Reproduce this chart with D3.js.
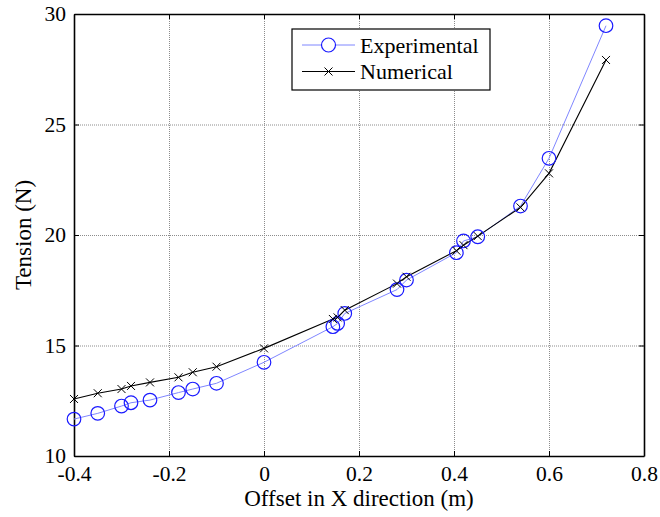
<!DOCTYPE html>
<html lang="en">
<head>
<meta charset="utf-8">
<script src="https://d3js.org/d3.v7.min.js"></script>
<style>
  body { margin: 0; background: #fff; }
  svg { font-family: "Liberation Serif", "Times New Roman", serif; }
  .grid line { stroke: #8c8c8c; stroke-dasharray: 1,1; }
  .grid path { display: none; }
  .axis path { stroke: #000; stroke-width: 1.6; }
  .axis line { stroke: #000; }
  .axis text { font-family: "Liberation Serif", "Times New Roman", serif; font-size: 21.5px; fill: #000; }
</style>
</head>
<body>
<svg width="660" height="517"></svg>
<script>
// offset in x direction (m)
var offsets = [-0.4, -0.35, -0.3, -0.28, -0.24, -0.18, -0.15, -0.1, 0, 0.145, 0.155, 0.17,
               0.28, 0.3, 0.405, 0.42, 0.45, 0.54, 0.6, 0.72];
// tension (N)
var experimental = [11.67, 11.93, 12.26, 12.41, 12.53, 12.87, 13.03, 13.29, 14.24, 15.85, 16.0, 16.45,
                    17.53, 17.96, 19.2, 19.73, 19.92, 21.31, 23.47, 29.47];
var numerical = [12.58, 12.84, 13.03, 13.17, 13.33, 13.56, 13.79, 14.04, 14.87, 16.2, 16.27, 16.6,
                 17.8, 18.11, 19.29, 19.54, 19.95, 21.25, 22.79, 27.92];
var xTicks = [-0.4, -0.2, 0, 0.2, 0.4, 0.6, 0.8];
var yTicks = [10, 15, 20, 25, 30];
var seriesNames = ["Experimental", "Numerical"];

var pl = 74, pr = 644, pt = 14, pb = 456;

var svg = d3.select("svg");

var x = d3.scaleLinear().domain([-0.4, 0.8]).range([pl, pr]);
var y = d3.scaleLinear().domain([10, 30]).range([pb, pt]);

// grid
svg.append("g").attr("class", "grid")
  .attr("transform", "translate(0," + pb + ")")
  .call(d3.axisBottom(x).tickValues(xTicks).tickSize(-(pb - pt)).tickFormat(""));
svg.append("g").attr("class", "grid")
  .attr("transform", "translate(" + pl + ",0)")
  .call(d3.axisLeft(y).tickValues(yTicks).tickSize(-(pr - pl)).tickFormat(""));

// axes, ticks inside
svg.append("g").attr("class", "axis")
  .attr("transform", "translate(0," + pb + ")")
  .call(d3.axisBottom(x).tickValues(xTicks).tickSizeInner(-5).tickSizeOuter(0).tickPadding(10)
    .tickFormat(function(d) { return String(+d.toFixed(1)); }));
svg.append("g").attr("class", "axis")
  .attr("transform", "translate(0," + pt + ")")
  .call(d3.axisTop(x).tickValues(xTicks).tickSizeInner(-5).tickSizeOuter(0).tickFormat(""));
svg.append("g").attr("class", "axis")
  .attr("transform", "translate(" + pl + ",0)")
  .call(d3.axisLeft(y).tickValues(yTicks).tickSizeInner(-5).tickSizeOuter(0).tickPadding(8));
svg.append("g").attr("class", "axis")
  .attr("transform", "translate(" + pr + ",0)")
  .call(d3.axisRight(y).tickValues(yTicks).tickSizeInner(-5).tickSizeOuter(0).tickFormat(""));

// lines
var line = d3.line()
  .x(function(d, i) { return x(offsets[i]); })
  .y(function(d) { return y(d); });

svg.append("path").datum(experimental)
  .attr("d", line)
  .attr("fill", "none").attr("stroke", "#7f86ff").attr("stroke-width", 1);
svg.append("path").datum(numerical)
  .attr("d", line)
  .attr("fill", "none").attr("stroke", "#000").attr("stroke-width", 1.1);

svg.append("g").selectAll("circle")
  .data(experimental).enter().append("circle")
  .attr("cx", function(d, i) { return x(offsets[i]); })
  .attr("cy", function(d) { return y(d); })
  .attr("r", 6.8)
  .attr("fill", "none").attr("stroke", "#1a1aff").attr("stroke-width", 1.2);

function cross(sel, s) {
  sel.attr("d", "M" + (-s) + "," + (-s) + "L" + s + "," + s + "M" + (-s) + "," + s + "L" + s + "," + (-s))
    .attr("fill", "none").attr("stroke", "#000").attr("stroke-width", 1);
}
svg.append("g").selectAll("path")
  .data(numerical).enter().append("path")
  .attr("transform", function(d, i) { return "translate(" + x(offsets[i]) + "," + y(d) + ")"; })
  .call(cross, 4);

// axis labels
svg.append("text")
  .attr("x", (pl + pr) / 2).attr("y", 506)
  .attr("text-anchor", "middle").attr("font-size", 23)
  .text("Offset in X direction (m)");
svg.append("text")
  .attr("transform", "translate(31," + (pt + pb) / 2 + ") rotate(-90)")
  .attr("text-anchor", "middle").attr("font-size", 23)
  .text("Tension (N)");

// legend
var lg = svg.append("g");
lg.append("rect").attr("x", 292).attr("y", 29).attr("width", 198).attr("height", 61)
  .attr("fill", "#fff").attr("stroke", "#000").attr("stroke-width", 1.2);
var rows = lg.selectAll("g.row").data(seriesNames).enter().append("g")
  .attr("transform", function(d, i) { return "translate(0," + (45 + i * 26.5) + ")"; });
rows.append("line").attr("x1", 302).attr("x2", 355).attr("y1", 0).attr("y2", 0)
  .attr("stroke", function(d, i) { return i == 0 ? "#7f86ff" : "#000"; });
rows.filter(function(d, i) { return i == 0; }).append("circle")
  .attr("cx", 328.5).attr("cy", 0).attr("r", 7)
  .attr("fill", "#fff").attr("stroke", "#1a1aff").attr("stroke-width", 1.2);
rows.filter(function(d, i) { return i == 1; }).append("path")
  .attr("transform", "translate(328.5,0)").call(cross, 4);
rows.append("text").attr("x", 360).attr("dy", "0.35em").attr("font-size", 22)
  .text(function(d) { return d; });
</script>
</body>
</html>
